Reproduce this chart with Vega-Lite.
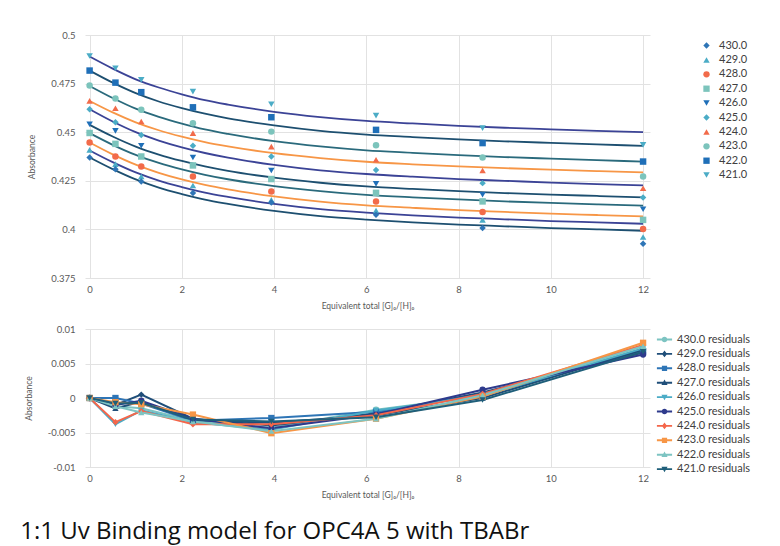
{
  "$schema": "https://vega.github.io/schema/vega-lite/v6.json",
  "padding": {"left": 20, "top": 30, "right": 5, "bottom": 5},
  "background": "white",
  "datasets": {
    "fit": [
      {"s":"421.0","x":0,"y":0.4889},{"s":"421.0","x":0.5,"y":0.4827},{"s":"421.0","x":1,"y":0.4772},{"s":"421.0","x":1.5,"y":0.4730},{"s":"421.0","x":2,"y":0.4695},{"s":"421.0","x":2.5,"y":0.4665},{"s":"421.0","x":3,"y":0.4642},{"s":"421.0","x":4,"y":0.4605},{"s":"421.0","x":5,"y":0.4578},{"s":"421.0","x":6,"y":0.4558},{"s":"421.0","x":7,"y":0.4545},{"s":"421.0","x":8,"y":0.4533},{"s":"421.0","x":9,"y":0.4523},{"s":"421.0","x":10,"y":0.4515},{"s":"421.0","x":11,"y":0.4507},{"s":"421.0","x":12,"y":0.4500},
      {"s":"422.0","x":0,"y":0.4817},{"s":"422.0","x":0.5,"y":0.4755},{"s":"422.0","x":1,"y":0.4701},{"s":"422.0","x":1.5,"y":0.4658},{"s":"422.0","x":2,"y":0.4624},{"s":"422.0","x":2.5,"y":0.4595},{"s":"422.0","x":3,"y":0.4571},{"s":"422.0","x":4,"y":0.4535},{"s":"422.0","x":5,"y":0.4507},{"s":"422.0","x":6,"y":0.4488},{"s":"422.0","x":7,"y":0.4475},{"s":"422.0","x":8,"y":0.4463},{"s":"422.0","x":9,"y":0.4453},{"s":"422.0","x":10,"y":0.4445},{"s":"422.0","x":11,"y":0.4437},{"s":"422.0","x":12,"y":0.4430},
      {"s":"423.0","x":0,"y":0.4738},{"s":"423.0","x":0.5,"y":0.4676},{"s":"423.0","x":1,"y":0.4621},{"s":"423.0","x":1.5,"y":0.4579},{"s":"423.0","x":2,"y":0.4544},{"s":"423.0","x":2.5,"y":0.4514},{"s":"423.0","x":3,"y":0.4491},{"s":"423.0","x":4,"y":0.4454},{"s":"423.0","x":5,"y":0.4427},{"s":"423.0","x":6,"y":0.4407},{"s":"423.0","x":7,"y":0.4394},{"s":"423.0","x":8,"y":0.4382},{"s":"423.0","x":9,"y":0.4372},{"s":"423.0","x":10,"y":0.4364},{"s":"423.0","x":11,"y":0.4356},{"s":"423.0","x":12,"y":0.4349},
      {"s":"424.0","x":0,"y":0.4661},{"s":"424.0","x":0.5,"y":0.4602},{"s":"424.0","x":1,"y":0.4551},{"s":"424.0","x":1.5,"y":0.4510},{"s":"424.0","x":2,"y":0.4477},{"s":"424.0","x":2.5,"y":0.4449},{"s":"424.0","x":3,"y":0.4427},{"s":"424.0","x":4,"y":0.4392},{"s":"424.0","x":5,"y":0.4367},{"s":"424.0","x":6,"y":0.4348},{"s":"424.0","x":7,"y":0.4335},{"s":"424.0","x":8,"y":0.4324},{"s":"424.0","x":9,"y":0.4315},{"s":"424.0","x":10,"y":0.4307},{"s":"424.0","x":11,"y":0.4300},{"s":"424.0","x":12,"y":0.4293},
      {"s":"425.0","x":0,"y":0.4618},{"s":"425.0","x":0.5,"y":0.4555},{"s":"425.0","x":1,"y":0.4500},{"s":"425.0","x":1.5,"y":0.4457},{"s":"425.0","x":2,"y":0.4422},{"s":"425.0","x":2.5,"y":0.4393},{"s":"425.0","x":3,"y":0.4369},{"s":"425.0","x":4,"y":0.4332},{"s":"425.0","x":5,"y":0.4304},{"s":"425.0","x":6,"y":0.4285},{"s":"425.0","x":7,"y":0.4271},{"s":"425.0","x":8,"y":0.4259},{"s":"425.0","x":9,"y":0.4250},{"s":"425.0","x":10,"y":0.4241},{"s":"425.0","x":11,"y":0.4233},{"s":"425.0","x":12,"y":0.4226},
      {"s":"426.0","x":0,"y":0.4538},{"s":"426.0","x":0.5,"y":0.4478},{"s":"426.0","x":1,"y":0.4426},{"s":"426.0","x":1.5,"y":0.4385},{"s":"426.0","x":2,"y":0.4352},{"s":"426.0","x":2.5,"y":0.4324},{"s":"426.0","x":3,"y":0.4301},{"s":"426.0","x":4,"y":0.4266},{"s":"426.0","x":5,"y":0.4240},{"s":"426.0","x":6,"y":0.4221},{"s":"426.0","x":7,"y":0.4208},{"s":"426.0","x":8,"y":0.4197},{"s":"426.0","x":9,"y":0.4187},{"s":"426.0","x":10,"y":0.4179},{"s":"426.0","x":11,"y":0.4172},{"s":"426.0","x":12,"y":0.4165},
      {"s":"427.0","x":0,"y":0.4495},{"s":"427.0","x":0.5,"y":0.4435},{"s":"427.0","x":1,"y":0.4383},{"s":"427.0","x":1.5,"y":0.4342},{"s":"427.0","x":2,"y":0.4309},{"s":"427.0","x":2.5,"y":0.4281},{"s":"427.0","x":3,"y":0.4258},{"s":"427.0","x":4,"y":0.4223},{"s":"427.0","x":5,"y":0.4197},{"s":"427.0","x":6,"y":0.4178},{"s":"427.0","x":7,"y":0.4165},{"s":"427.0","x":8,"y":0.4154},{"s":"427.0","x":9,"y":0.4144},{"s":"427.0","x":10,"y":0.4136},{"s":"427.0","x":11,"y":0.4129},{"s":"427.0","x":12,"y":0.4122},
      {"s":"428.0","x":0,"y":0.4447},{"s":"428.0","x":0.5,"y":0.4386},{"s":"428.0","x":1,"y":0.4333},{"s":"428.0","x":1.5,"y":0.4291},{"s":"428.0","x":2,"y":0.4257},{"s":"428.0","x":2.5,"y":0.4229},{"s":"428.0","x":3,"y":0.4206},{"s":"428.0","x":4,"y":0.4170},{"s":"428.0","x":5,"y":0.4143},{"s":"428.0","x":6,"y":0.4124},{"s":"428.0","x":7,"y":0.4111},{"s":"428.0","x":8,"y":0.4099},{"s":"428.0","x":9,"y":0.4090},{"s":"428.0","x":10,"y":0.4081},{"s":"428.0","x":11,"y":0.4074},{"s":"428.0","x":12,"y":0.4067},
      {"s":"429.0","x":0,"y":0.4406},{"s":"429.0","x":0.5,"y":0.4346},{"s":"429.0","x":1,"y":0.4293},{"s":"429.0","x":1.5,"y":0.4251},{"s":"429.0","x":2,"y":0.4218},{"s":"429.0","x":2.5,"y":0.4189},{"s":"429.0","x":3,"y":0.4167},{"s":"429.0","x":4,"y":0.4131},{"s":"429.0","x":5,"y":0.4104},{"s":"429.0","x":6,"y":0.4086},{"s":"429.0","x":7,"y":0.4072},{"s":"429.0","x":8,"y":0.4061},{"s":"429.0","x":9,"y":0.4052},{"s":"429.0","x":10,"y":0.4043},{"s":"429.0","x":11,"y":0.4036},{"s":"429.0","x":12,"y":0.4029},
      {"s":"430.0","x":0,"y":0.4370},{"s":"430.0","x":0.5,"y":0.4310},{"s":"430.0","x":1,"y":0.4257},{"s":"430.0","x":1.5,"y":0.4215},{"s":"430.0","x":2,"y":0.4182},{"s":"430.0","x":2.5,"y":0.4153},{"s":"430.0","x":3,"y":0.4131},{"s":"430.0","x":4,"y":0.4095},{"s":"430.0","x":5,"y":0.4068},{"s":"430.0","x":6,"y":0.4050},{"s":"430.0","x":7,"y":0.4036},{"s":"430.0","x":8,"y":0.4025},{"s":"430.0","x":9,"y":0.4016},{"s":"430.0","x":10,"y":0.4007},{"s":"430.0","x":11,"y":0.4000},{"s":"430.0","x":12,"y":0.3993}
    ],
    "obs": [
      {"s":"421.0","x":0,"y":0.4892},{"s":"421.0","x":0.56,"y":0.4829},{"s":"421.0","x":1.12,"y":0.4769},{"s":"421.0","x":2.24,"y":0.4709},{"s":"421.0","x":3.94,"y":0.4644},{"s":"421.0","x":6.21,"y":0.4585},{"s":"421.0","x":8.52,"y":0.4521},{"s":"421.0","x":12,"y":0.4435},
      {"s":"422.0","x":0,"y":0.4817},{"s":"422.0","x":0.56,"y":0.4755},{"s":"422.0","x":1.12,"y":0.4706},{"s":"422.0","x":2.24,"y":0.4628},{"s":"422.0","x":3.94,"y":0.4577},{"s":"422.0","x":6.21,"y":0.4512},{"s":"422.0","x":8.52,"y":0.4444},{"s":"422.0","x":12,"y":0.4349},
      {"s":"423.0","x":0,"y":0.4740},{"s":"423.0","x":0.56,"y":0.4673},{"s":"423.0","x":1.12,"y":0.4615},{"s":"423.0","x":2.24,"y":0.4546},{"s":"423.0","x":3.94,"y":0.4503},{"s":"423.0","x":6.21,"y":0.4433},{"s":"423.0","x":8.52,"y":0.4370},{"s":"423.0","x":12,"y":0.4272},
      {"s":"424.0","x":0,"y":0.4661},{"s":"424.0","x":0.56,"y":0.4623},{"s":"424.0","x":1.12,"y":0.4555},{"s":"424.0","x":2.24,"y":0.4495},{"s":"424.0","x":3.94,"y":0.4426},{"s":"424.0","x":6.21,"y":0.4358},{"s":"424.0","x":8.52,"y":0.4303},{"s":"424.0","x":12,"y":0.4212},
      {"s":"425.0","x":0,"y":0.4618},{"s":"425.0","x":0.56,"y":0.4551},{"s":"425.0","x":1.12,"y":0.4486},{"s":"425.0","x":2.24,"y":0.4430},{"s":"425.0","x":3.94,"y":0.4375},{"s":"425.0","x":6.21,"y":0.4306},{"s":"425.0","x":8.52,"y":0.4238},{"s":"425.0","x":12,"y":0.4164},
      {"s":"426.0","x":0,"y":0.4541},{"s":"426.0","x":0.56,"y":0.4507},{"s":"426.0","x":1.12,"y":0.4430},{"s":"426.0","x":2.24,"y":0.4370},{"s":"426.0","x":3.94,"y":0.4303},{"s":"426.0","x":6.21,"y":0.4234},{"s":"426.0","x":8.52,"y":0.4178},{"s":"426.0","x":12,"y":0.4104},
      {"s":"427.0","x":0,"y":0.4496},{"s":"427.0","x":0.56,"y":0.4440},{"s":"427.0","x":1.12,"y":0.4375},{"s":"427.0","x":2.24,"y":0.4329},{"s":"427.0","x":3.94,"y":0.4259},{"s":"427.0","x":6.21,"y":0.4188},{"s":"427.0","x":8.52,"y":0.4144},{"s":"427.0","x":12,"y":0.4049},
      {"s":"428.0","x":0,"y":0.4447},{"s":"428.0","x":0.56,"y":0.4375},{"s":"428.0","x":1.12,"y":0.4323},{"s":"428.0","x":2.24,"y":0.4272},{"s":"428.0","x":3.94,"y":0.4195},{"s":"428.0","x":6.21,"y":0.4144},{"s":"428.0","x":8.52,"y":0.4089},{"s":"428.0","x":12,"y":0.4002},
      {"s":"429.0","x":0,"y":0.4409},{"s":"429.0","x":0.56,"y":0.4336},{"s":"429.0","x":1.12,"y":0.4272},{"s":"429.0","x":2.24,"y":0.4226},{"s":"429.0","x":3.94,"y":0.4152},{"s":"429.0","x":6.21,"y":0.4097},{"s":"429.0","x":8.52,"y":0.4049},{"s":"429.0","x":12,"y":0.3961},
      {"s":"430.0","x":0,"y":0.4370},{"s":"430.0","x":0.56,"y":0.4310},{"s":"430.0","x":1.12,"y":0.4246},{"s":"430.0","x":2.24,"y":0.4187},{"s":"430.0","x":3.94,"y":0.4138},{"s":"430.0","x":6.21,"y":0.4075},{"s":"430.0","x":8.52,"y":0.4007},{"s":"430.0","x":12,"y":0.3926}
    ],
    "res": [
      {"s":"430.0 residuals","x":0,"y":0},{"s":"430.0 residuals","x":0.56,"y":-0.0012},{"s":"430.0 residuals","x":1.12,"y":-0.0015},{"s":"430.0 residuals","x":2.24,"y":-0.0033},{"s":"430.0 residuals","x":3.94,"y":-0.0043},{"s":"430.0 residuals","x":6.21,"y":-0.0017},{"s":"430.0 residuals","x":8.52,"y":0.0003},{"s":"430.0 residuals","x":12,"y":0.0070},
      {"s":"429.0 residuals","x":0,"y":0},{"s":"429.0 residuals","x":0.56,"y":-0.0010},{"s":"429.0 residuals","x":1.12,"y":0.0005},{"s":"429.0 residuals","x":2.24,"y":-0.0030},{"s":"429.0 residuals","x":3.94,"y":-0.0040},{"s":"429.0 residuals","x":6.21,"y":-0.0022},{"s":"429.0 residuals","x":8.52,"y":0.0008},{"s":"429.0 residuals","x":12,"y":0.0066},
      {"s":"428.0 residuals","x":0,"y":0},{"s":"428.0 residuals","x":0.56,"y":0.0000},{"s":"428.0 residuals","x":1.12,"y":-0.0008},{"s":"428.0 residuals","x":2.24,"y":-0.0033},{"s":"428.0 residuals","x":3.94,"y":-0.0029},{"s":"428.0 residuals","x":6.21,"y":-0.0020},{"s":"428.0 residuals","x":8.52,"y":0.0005},{"s":"428.0 residuals","x":12,"y":0.0068},
      {"s":"427.0 residuals","x":0,"y":0},{"s":"427.0 residuals","x":0.56,"y":-0.0015},{"s":"427.0 residuals","x":1.12,"y":-0.0005},{"s":"427.0 residuals","x":2.24,"y":-0.0032},{"s":"427.0 residuals","x":3.94,"y":-0.0036},{"s":"427.0 residuals","x":6.21,"y":-0.0025},{"s":"427.0 residuals","x":8.52,"y":0.0000},{"s":"427.0 residuals","x":12,"y":0.0070},
      {"s":"426.0 residuals","x":0,"y":0},{"s":"426.0 residuals","x":0.56,"y":-0.0038},{"s":"426.0 residuals","x":1.12,"y":-0.0018},{"s":"426.0 residuals","x":2.24,"y":-0.0035},{"s":"426.0 residuals","x":3.94,"y":-0.0046},{"s":"426.0 residuals","x":6.21,"y":-0.0018},{"s":"426.0 residuals","x":8.52,"y":0.0003},{"s":"426.0 residuals","x":12,"y":0.0072},
      {"s":"425.0 residuals","x":0,"y":0},{"s":"425.0 residuals","x":0.56,"y":-0.0010},{"s":"425.0 residuals","x":1.12,"y":-0.0004},{"s":"425.0 residuals","x":2.24,"y":-0.0030},{"s":"425.0 residuals","x":3.94,"y":-0.0044},{"s":"425.0 residuals","x":6.21,"y":-0.0024},{"s":"425.0 residuals","x":8.52,"y":0.0012},{"s":"425.0 residuals","x":12,"y":0.0063},
      {"s":"424.0 residuals","x":0,"y":0},{"s":"424.0 residuals","x":0.56,"y":-0.0035},{"s":"424.0 residuals","x":1.12,"y":-0.0019},{"s":"424.0 residuals","x":2.24,"y":-0.0038},{"s":"424.0 residuals","x":3.94,"y":-0.0038},{"s":"424.0 residuals","x":6.21,"y":-0.0025},{"s":"424.0 residuals","x":8.52,"y":0.0006},{"s":"424.0 residuals","x":12,"y":0.0077},
      {"s":"423.0 residuals","x":0,"y":0},{"s":"423.0 residuals","x":0.56,"y":-0.0006},{"s":"423.0 residuals","x":1.12,"y":-0.0009},{"s":"423.0 residuals","x":2.24,"y":-0.0024},{"s":"423.0 residuals","x":3.94,"y":-0.0051},{"s":"423.0 residuals","x":6.21,"y":-0.0030},{"s":"423.0 residuals","x":8.52,"y":0.0002},{"s":"423.0 residuals","x":12,"y":0.0080},
      {"s":"422.0 residuals","x":0,"y":0},{"s":"422.0 residuals","x":0.56,"y":-0.0012},{"s":"422.0 residuals","x":1.12,"y":-0.0021},{"s":"422.0 residuals","x":2.24,"y":-0.0034},{"s":"422.0 residuals","x":3.94,"y":-0.0048},{"s":"422.0 residuals","x":6.21,"y":-0.0030},{"s":"422.0 residuals","x":8.52,"y":0.0004},{"s":"422.0 residuals","x":12,"y":0.0075},
      {"s":"421.0 residuals","x":0,"y":0},{"s":"421.0 residuals","x":0.56,"y":-0.0008},{"s":"421.0 residuals","x":1.12,"y":-0.0007},{"s":"421.0 residuals","x":2.24,"y":-0.0031},{"s":"421.0 residuals","x":3.94,"y":-0.0034},{"s":"421.0 residuals","x":6.21,"y":-0.0028},{"s":"421.0 residuals","x":8.52,"y":-0.0003},{"s":"421.0 residuals","x":12,"y":0.0067}
    ]
  },
  "title": {
    "text": "1:1 Uv Binding model for OPC4A 5 with TBABr",
    "orient": "bottom",
    "anchor": "start",
    "font": "Open Sans",
    "fontSize": 24,
    "fontWeight": "normal",
    "color": "#111111",
    "offset": 21,
    "dx": -4
  },
  "spacing": 14,
  "vconcat": [
    {
      "width": 565,
      "height": 243,
      "encoding": {
        "x": {"field": "x", "type": "quantitative",
              "scale": {"domain": [-0.1, 12.15], "nice": false, "zero": false},
              "axis": {"values": [0, 2, 4, 6, 8, 10, 12], "title": "Equivalent total [G]₀/[H]₀", "labelPadding": 6, "titlePadding": 8}},
        "y": {"field": "y", "type": "quantitative",
              "scale": {"domain": [0.375, 0.5], "nice": false, "zero": false},
              "axis": {"values": [0.375, 0.4, 0.425, 0.45, 0.475, 0.5], "format": ".3~f", "title": "Absorbance", "labelPadding": 10, "titlePadding": 14}}
      },
      "layer": [
        {
          "data": {"name": "fit"},
          "mark": {"type": "line", "interpolate": "monotone", "strokeWidth": 1.8},
          "encoding": {
            "color": {"field": "s", "type": "nominal",
                      "scale": {"domain": ["430.0","429.0","428.0","427.0","426.0","425.0","424.0","423.0","422.0","421.0"],
                                "range": ["#1d4f70","#3b4396","#f79646","#2a6a7c","#1d4f70","#3b4396","#f79646","#2a6a7c","#1d4f70","#3b4396"]},
                      "legend": null}
          }
        },
        {
          "data": {"name": "obs"},
          "mark": {"type": "point", "filled": true, "size": 42, "opacity": 1},
          "encoding": {
            "color": {"field": "s", "type": "nominal",
                      "scale": {"domain": ["430.0","429.0","428.0","427.0","426.0","425.0","424.0","423.0","422.0","421.0"],
                                "range": ["#2e75b6","#4bacc6","#f26b4a","#7cc4bc","#1f6fb8","#4bacc6","#f26b4a","#7cc4bc","#1f6fb8","#4bacc6"]},
                      "legend": {"title": null, "orient": "right", "offset": 46, "padding": 5, "labelFontSize": 11, "labelFont": "Lato", "labelColor": "#404040", "symbolSize": 40, "labelOffset": 7, "rowPadding": 2.4}},
            "shape": {"field": "s", "type": "nominal",
                      "scale": {"domain": ["430.0","429.0","428.0","427.0","426.0","425.0","424.0","423.0","422.0","421.0"],
                                "range": ["diamond","triangle-up","circle","square","triangle-down","diamond","triangle-up","circle","square","triangle-down"]},
                      "legend": {"title": null, "orient": "right", "offset": 46, "padding": 5, "labelFontSize": 11, "labelFont": "Lato", "labelColor": "#404040", "symbolSize": 40, "labelOffset": 7, "rowPadding": 2.4}}
          }
        }
      ],
      "resolve": {"scale": {"color": "independent", "shape": "independent"}}
    },
    {
      "width": 565,
      "height": 138,
      "encoding": {
        "x": {"field": "x", "type": "quantitative",
              "scale": {"domain": [-0.1, 12.15], "nice": false, "zero": false},
              "axis": {"values": [0, 2, 4, 6, 8, 10, 12], "title": "Equivalent total [G]₀/[H]₀", "labelPadding": 6, "titlePadding": 8}},
        "y": {"field": "y", "type": "quantitative",
              "scale": {"domain": [-0.01, 0.01], "nice": false, "zero": false},
              "axis": {"values": [-0.01, -0.005, 0, 0.005, 0.01], "labelExpr": "datum.value < 0 ? '-' + format(-datum.value, '.3~f') : format(datum.value, '.3~f')", "title": "Absorbance", "labelPadding": 10, "titlePadding": 14}}
      },
      "layer": [
        {
          "data": {"name": "res"},
          "mark": {"type": "line", "strokeWidth": 2},
          "encoding": {
            "color": {"field": "s", "type": "nominal",
                      "scale": {"domain": ["430.0 residuals","429.0 residuals","428.0 residuals","427.0 residuals","426.0 residuals","425.0 residuals","424.0 residuals","423.0 residuals","422.0 residuals","421.0 residuals"],
                                "range": ["#7dc4c2","#1f4e79","#2e75b6","#1f4e79","#4bacc6","#2e3a8c","#f4664a","#f79646","#7dc4c2","#1f5f7a"]},
                      "legend": null}
          }
        },
        {
          "data": {"name": "res"},
          "mark": {"type": "point", "filled": true, "size": 40, "opacity": 1},
          "encoding": {
            "color": {"field": "s", "type": "nominal",
                      "scale": {"domain": ["430.0 residuals","429.0 residuals","428.0 residuals","427.0 residuals","426.0 residuals","425.0 residuals","424.0 residuals","423.0 residuals","422.0 residuals","421.0 residuals"],
                                "range": ["#7dc4c2","#1f4e79","#2e75b6","#1f4e79","#4bacc6","#2e3a8c","#f4664a","#f79646","#7dc4c2","#1f5f7a"]},
                      "legend": null},
            "shape": {"field": "s", "type": "nominal",
                      "scale": {"domain": ["430.0 residuals","429.0 residuals","428.0 residuals","427.0 residuals","426.0 residuals","425.0 residuals","424.0 residuals","423.0 residuals","422.0 residuals","421.0 residuals"],
                                "range": ["circle","diamond","square","triangle-up","triangle-down","circle","diamond","square","triangle-up","triangle-down"]},
                      "legend": null}
          }
        },
        {
          "data": {"name": "res"},
          "transform": [{"filter": "datum.x < -50"}],
          "mark": {"type": "point", "filled": true, "size": 40, "opacity": 1},
          "encoding": {
            "color": {"field": "s", "type": "nominal",
                      "scale": {"domain": ["430.0 residuals","429.0 residuals","428.0 residuals","427.0 residuals","426.0 residuals","425.0 residuals","424.0 residuals","423.0 residuals","422.0 residuals","421.0 residuals"],
                                "range": ["#7dc4c2","#1f4e79","#2e75b6","#1f4e79","#4bacc6","#2e3a8c","#f4664a","#f79646","#7dc4c2","#1f5f7a"]},
                      "legend": {"title": null, "orient": "right", "offset": 4, "padding": 5, "labelFontSize": 11, "labelFont": "Lato", "labelColor": "#404040", "symbolSize": 90, "labelOffset": 7, "rowPadding": 2.4}},
            "shape": {"field": "s", "type": "nominal",
                      "scale": {"domain": ["430.0 residuals","429.0 residuals","428.0 residuals","427.0 residuals","426.0 residuals","425.0 residuals","424.0 residuals","423.0 residuals","422.0 residuals","421.0 residuals"],
                                "range": [
                                  "M-1.6,-0.2H1.6V0.2H-1.6Z M-0.6,0A0.6,0.6,0,1,1,0.6,0A0.6,0.6,0,1,1,-0.6,0Z",
                                  "M-1.6,-0.2H1.6V0.2H-1.6Z M0,-0.7L0.55,0L0,0.7L-0.55,0Z",
                                  "M-1.6,-0.2H1.6V0.2H-1.6Z M-0.55,-0.55H0.55V0.55H-0.55Z",
                                  "M-1.6,-0.2H1.6V0.2H-1.6Z M0,-0.65L0.65,0.5H-0.65Z",
                                  "M-1.6,-0.2H1.6V0.2H-1.6Z M0,0.65L-0.65,-0.5H0.65Z",
                                  "M-1.6,-0.2H1.6V0.2H-1.6Z M-0.6,0A0.6,0.6,0,1,1,0.6,0A0.6,0.6,0,1,1,-0.6,0Z",
                                  "M-1.6,-0.2H1.6V0.2H-1.6Z M0,-0.7L0.55,0L0,0.7L-0.55,0Z",
                                  "M-1.6,-0.2H1.6V0.2H-1.6Z M-0.55,-0.55H0.55V0.55H-0.55Z",
                                  "M-1.6,-0.2H1.6V0.2H-1.6Z M0,-0.65L0.65,0.5H-0.65Z",
                                  "M-1.6,-0.2H1.6V0.2H-1.6Z M0,0.65L-0.65,-0.5H0.65Z"
                                ]},
                      "legend": {"title": null, "orient": "right", "offset": 4, "padding": 5, "labelFontSize": 11, "labelFont": "Lato", "labelColor": "#404040", "symbolSize": 90, "labelOffset": 7, "rowPadding": 2.4}}
          }
        }
      ],
      "resolve": {"scale": {"color": "independent", "shape": "independent"}}
    }
  ],
  "config": {
    "view": {"stroke": null},
    "axis": {
      "grid": true, "gridColor": "#e2e2e2", "gridWidth": 1,
      "domain": false, "ticks": false, "labelOverlap": false,
      "labelFont": "Lato", "labelFontSize": 9.5, "labelColor": "#595959",
      "titleFont": "Lato", "titleFontSize": 8.5, "titleColor": "#595959", "titleFontWeight": "normal"
    }
  }
}
